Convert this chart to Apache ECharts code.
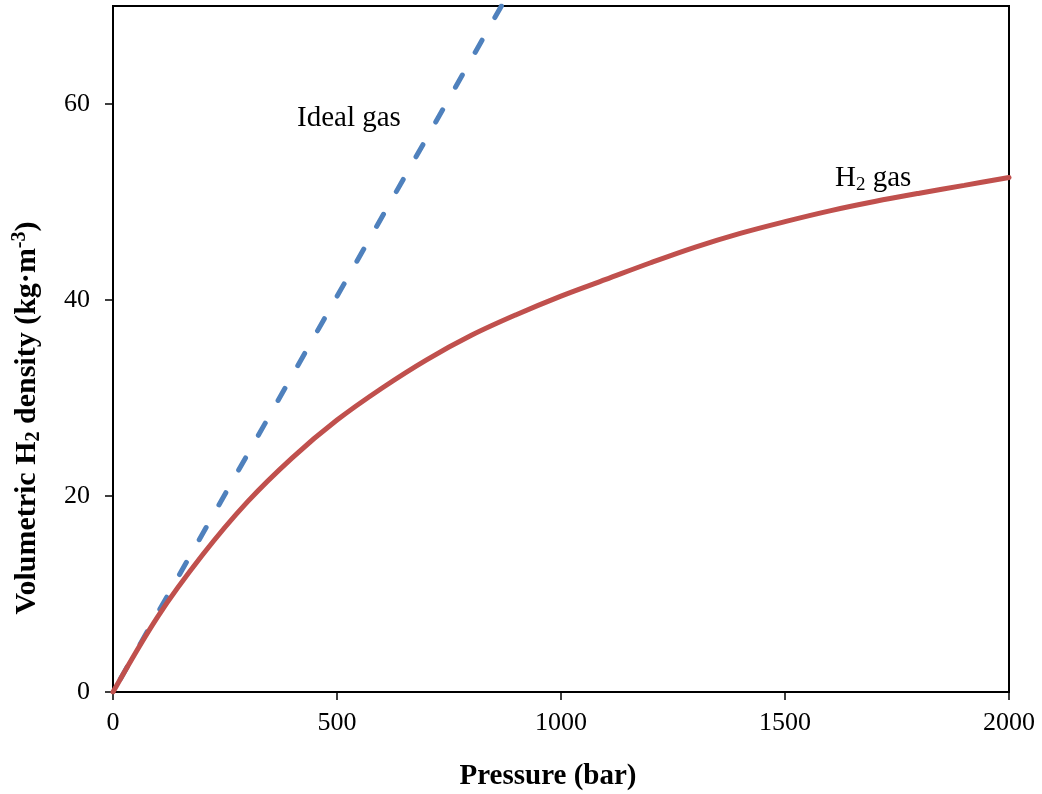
<!DOCTYPE html>
<html>
<head>
<meta charset="utf-8">
<script src="https://cdn.jsdelivr.net/npm/echarts@6/dist/echarts.min.js"></script>
<style>
html,body{margin:0;padding:0;background:#fff;}
#chart{width:1042px;height:794px;}
</style>
</head>
<body>
<div id="chart"></div>
<script>
// Pressure (bar) and density (kg·m-3)
const h2Pressure = [0, 100, 200, 300, 400, 500, 600, 700, 800, 900, 1000, 1100, 1200, 1300, 1400, 1500, 1600, 1700, 1800, 1900, 2000];
const h2Density  = [0, 7.7, 14.0, 19.4, 23.9, 27.75, 31.0, 33.9, 36.4, 38.5, 40.4, 42.1, 43.8, 45.4, 46.8, 48.0, 49.1, 50.05, 50.9, 51.7, 52.5];
const idealPressure = [0, 867];
const idealDensity  = [0, 70];
const xTicks = [0, 500, 1000, 1500, 2000];
const yTicks = [0, 20, 40, 60];

const serif = '"Liberation Serif", "Times New Roman", serif';

const chart = echarts.init(document.getElementById('chart'), null, {renderer: 'canvas'});

const option = {
  backgroundColor: '#fff',
  animation: false,
  grid: {
    left: 113, right: 33, top: 6, bottom: 102,
    show: true, borderColor: '#000', borderWidth: 2, backgroundColor: 'transparent'
  },
  xAxis: {
    type: 'value', min: 0, max: 2000, interval: 500,
    axisLine: {show: true, onZero: false, lineStyle: {color: '#000', width: 2}},
    axisTick: {show: true, inside: false, length: 8, lineStyle: {color: '#000', width: 1.5}, customValues: xTicks},
    axisLabel: {color: '#000', fontFamily: serif, fontSize: 26, margin: 18, customValues: xTicks,
                formatter: v => String(v)},
    splitLine: {show: false}
  },
  yAxis: {
    type: 'value', min: 0, max: 70, interval: 20,
    axisLine: {show: true, onZero: false, lineStyle: {color: '#000', width: 2}},
    axisTick: {show: true, inside: false, length: 8, lineStyle: {color: '#000', width: 1.5}, customValues: yTicks},
    axisLabel: {color: '#000', fontFamily: serif, fontSize: 26, margin: 23, customValues: yTicks,
                formatter: v => String(v)},
    splitLine: {show: false}
  },
  series: [
    {
      name: 'Ideal gas', type: 'line', showSymbol: false, symbol: 'none', clip: true,
      data: idealPressure.map((p, i) => [p, idealDensity[i]]),
      lineStyle: {color: '#4F81BD', width: 5, type: [14, 26], dashOffset: 25, cap: 'round'}
    },
    {
      name: 'H2 gas', type: 'line', showSymbol: false, symbol: 'none', smooth: 0.35, clip: true,
      data: h2Pressure.map((p, i) => [p, h2Density[i]]),
      lineStyle: {color: '#C0504D', width: 5, cap: 'round'}
    }
  ],
  graphic: [
    {
      type: 'text', x: 297, y: 118,
      style: {text: 'Ideal gas', fontFamily: serif, fontSize: 29, fill: '#000',
              align: 'left', verticalAlign: 'middle', textAlign: 'left', textVerticalAlign: 'middle'}
    },
    {
      type: 'text', x: 835, y: 178,
      style: {
        text: '{m|H}{s|2}{m| gas}', fill: '#000',
        align: 'left', verticalAlign: 'middle', textAlign: 'left', textVerticalAlign: 'middle',
        rich: {
          m: {fontFamily: serif, fontSize: 29, lineHeight: 34, fill: '#000', color: '#000'},
          s: {fontFamily: serif, fontSize: 19, lineHeight: 18, verticalAlign: 'bottom', fill: '#000', color: '#000'}
        }
      }
    },
    {
      type: 'text', x: 548, y: 777,
      style: {text: 'Pressure (bar)', fontFamily: serif, fontSize: 29, fontWeight: 'bold', fill: '#000',
              align: 'center', verticalAlign: 'middle', textAlign: 'center', textVerticalAlign: 'middle'}
    },
    {
      type: 'text', x: 27, y: 418, rotation: Math.PI / 2,
      style: {
        text: '{m|Volumetric H}{s|2}{m| density (kg·m}{p|-3}{m|)}', fill: '#000',
        align: 'center', verticalAlign: 'middle', textAlign: 'center', textVerticalAlign: 'middle',
        rich: {
          m: {fontFamily: serif, fontSize: 30, fontWeight: 'bold', lineHeight: 34, fill: '#000', color: '#000'},
          s: {fontFamily: serif, fontSize: 20, fontWeight: 'bold', lineHeight: 18, verticalAlign: 'bottom', fill: '#000', color: '#000'},
          p: {fontFamily: serif, fontSize: 20, fontWeight: 'bold', lineHeight: 18, verticalAlign: 'top', fill: '#000', color: '#000'}
        }
      }
    }
  ]
};

chart.setOption(option);
</script>
</body>
</html>
